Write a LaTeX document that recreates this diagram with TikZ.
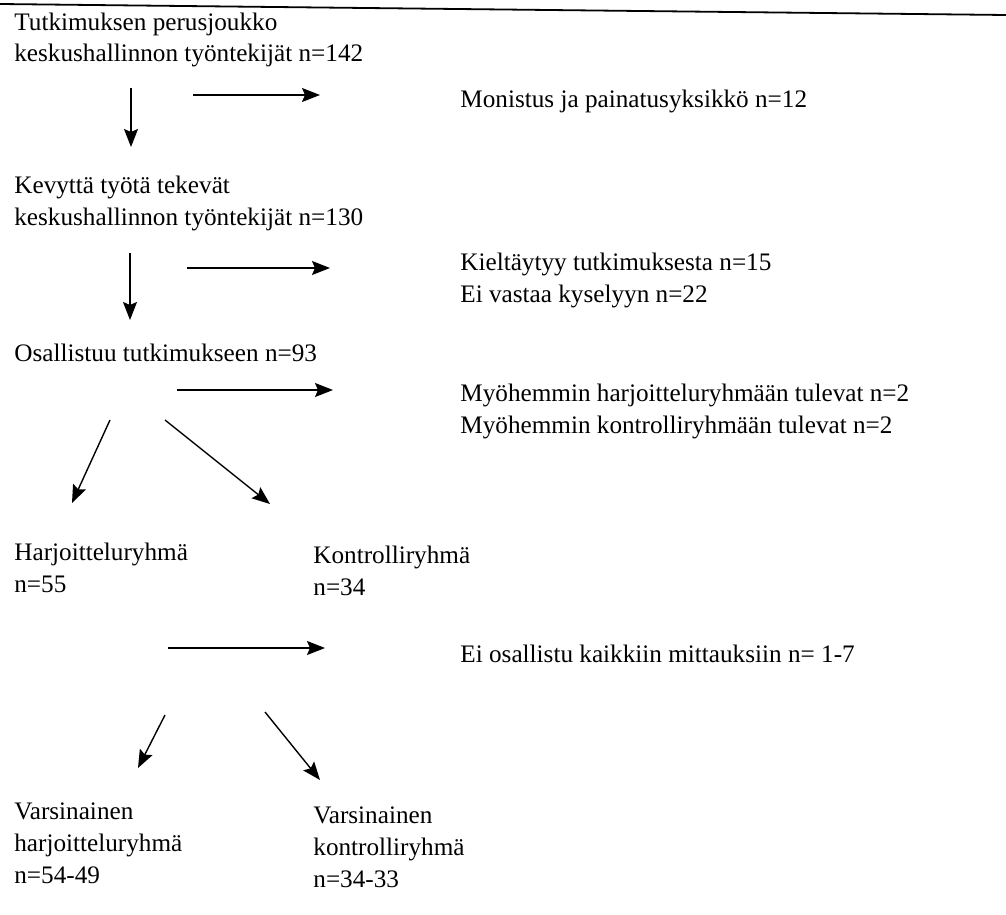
\documentclass[tikz,border=0pt]{standalone}
\usepackage{fontspec}
\setmainfont{Liberation Serif}
\usetikzlibrary{arrows.meta}

\tikzset{
  txt/.style={anchor=base west, align=left, inner sep=0pt, font=\fontsize{12.6}{16}\selectfont},
  arr/.style={-{Stealth[length=9pt, width=7pt, inset=1.5pt]}, line width=0.7pt}
}

\begin{document}
\begin{tikzpicture}[x=0.5pt, y=-0.5pt]
  \useasboundingbox (0, 0) rectangle (1006, 915);

  % page rule
  \draw [line width=0.9pt] (0, 4) -- (1006, 15);

  % left column (placed at the baseline of the last line)
  \node [txt] (perus) at (14, 62) {Tutkimuksen perusjoukko\\keskushallinnon työntekijät n=142};
  \node [txt] (kevyt) at (14, 225) {Kevyttä työtä tekevät\\keskushallinnon työntekijät n=130};
  \node [txt] (osall) at (14, 361) {Osallistuu tutkimukseen n=93};
  \node [txt] (harj) at (14, 592) {Harjoitteluryhmä\\n=55};
  \node [txt] (kontr) at (313, 595) {Kontrolliryhmä\\n=34};
  \node [txt] (vharj) at (14, 883) {Varsinainen\\harjoitteluryhmä\\n=54-49};
  \node [txt] (vkontr) at (313, 887) {Varsinainen\\kontrolliryhmä\\n=34-33};

  % right column
  \node [txt] (monistus) at (460, 108) {Monistus ja painatusyksikkö n=12};
  \node [txt] (kielt) at (460, 302) {Kieltäytyy tutkimuksesta n=15\\Ei vastaa kyselyyn n=22};
  \node [txt] (myoh) at (460, 433) {Myöhemmin harjoitteluryhmään tulevat n=2\\Myöhemmin kontrolliryhmään tulevat n=2};
  \node [txt] (eiosall) at (460, 662) {Ei osallistu kaikkiin mittauksiin n= 1-7};

  % arrow ends
  \coordinate (d1a) at (131, 88);  \coordinate (d1b) at (131, 147);
  \coordinate (r1a) at (193, 95);  \coordinate (r1b) at (320, 95);
  \coordinate (d2a) at (130, 253); \coordinate (d2b) at (130, 320);
  \coordinate (r2a) at (187, 268); \coordinate (r2b) at (330, 268);
  \coordinate (r3a) at (177, 390); \coordinate (r3b) at (333, 390);
  \coordinate (s1a) at (110, 420); \coordinate (s1b) at (72, 503);
  \coordinate (s2a) at (165, 420); \coordinate (s2b) at (270, 504);
  \coordinate (r4a) at (168, 648); \coordinate (r4b) at (325, 648);
  \coordinate (s3a) at (165, 715); \coordinate (s3b) at (138, 768);
  \coordinate (s4a) at (265, 712); \coordinate (s4b) at (320, 780);

  \draw [arr] (d1a) -- (d1b);
  \draw [arr] (r1a) -- (r1b);
  \draw [arr] (d2a) -- (d2b);
  \draw [arr] (r2a) -- (r2b);
  \draw [arr] (r3a) -- (r3b);
  \draw [arr] (s1a) -- (s1b);
  \draw [arr] (s2a) -- (s2b);
  \draw [arr] (r4a) -- (r4b);
  \draw [arr] (s3a) -- (s3b);
  \draw [arr] (s4a) -- (s4b);
\end{tikzpicture}
\end{document}
